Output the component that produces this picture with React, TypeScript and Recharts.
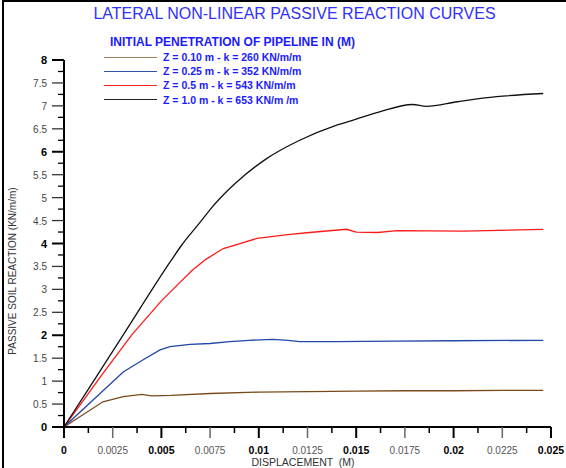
import React from 'react'
import { LineChart, Line, XAxis, YAxis } from 'recharts'

// displacement (m) / passive soil reaction (kN/m/m)
const dispZ010 = [0, 0.002, 0.00304, 0.004, 0.0045, 0.0055, 0.0075, 0.01, 0.0125, 0.015, 0.0175, 0.02, 0.0225, 0.0246]
const reactZ010 = [0, 0.55, 0.66, 0.71, 0.68, 0.69, 0.73, 0.76, 0.77, 0.78, 0.79, 0.79, 0.8, 0.8]

const dispZ025 = [0, 0.00304, 0.004, 0.00493, 0.00544, 0.00647, 0.0075, 0.0085, 0.0095, 0.0107, 0.0115, 0.0121, 0.014, 0.017, 0.02, 0.0246]
const reactZ025 = [0, 1.2, 1.45, 1.68, 1.75, 1.8, 1.82, 1.86, 1.89, 1.91, 1.89, 1.86, 1.86, 1.87, 1.88, 1.89]

const dispZ050 = [0, 0.002, 0.0035, 0.005, 0.0059, 0.0066, 0.0073, 0.00818, 0.0099, 0.0116, 0.0126, 0.01451, 0.015, 0.0161, 0.0171, 0.0205, 0.0246]
const reactZ050 = [0, 1.17, 2.02, 2.75, 3.13, 3.42, 3.66, 3.89, 4.11, 4.2, 4.24, 4.31, 4.25, 4.24, 4.28, 4.27, 4.31]

const dispZ100 = [0, 0.003, 0.0055, 0.006, 0.007, 0.0075, 0.008, 0.00887, 0.0104, 0.0121, 0.014, 0.015, 0.0162, 0.0179, 0.0186, 0.0202, 0.0222, 0.0246]
const reactZ100 = [0, 1.98, 3.63, 3.94, 4.47, 4.74, 4.98, 5.34, 5.85, 6.25, 6.58, 6.71, 6.87, 7.03, 6.99, 7.09, 7.2, 7.27]

const seriesNames = [
  'Z = 0.10 m - k = 260 KN/m/m',
  'Z = 0.25 m - k = 352 KN/m/m',
  'Z = 0.5 m - k = 543 KN/m/m',
  'Z = 1.0 m - k = 653 KN/m /m',
]
const seriesColors = ['#7b4a1c', '#2347a8', '#ff1a1a', '#111111']
const legendLineColors = ['#a07d5a', '#2f55aa', '#ff2020', '#222222']

const xTicks = [0, 0.00125, 0.0025, 0.00375, 0.005, 0.00625, 0.0075, 0.00875, 0.01, 0.01125, 0.0125, 0.01375, 0.015, 0.01625, 0.0175, 0.01875, 0.02, 0.02125, 0.0225, 0.02375, 0.025]
const yTicks = [0, 0.25, 0.5, 0.75, 1, 1.25, 1.5, 1.75, 2, 2.25, 2.5, 2.75, 3, 3.25, 3.5, 3.75, 4, 4.25, 4.5, 4.75, 5, 5.25, 5.5, 5.75, 6, 6.25, 6.5, 6.75, 7, 7.25, 7.5, 7.75, 8]

const zip = (xs: number[], ys: number[]) => xs.map((x, i) => ({ x, y: ys[i] }))
const series = [
  zip(dispZ010, reactZ010),
  zip(dispZ025, reactZ025),
  zip(dispZ050, reactZ050),
  zip(dispZ100, reactZ100),
]

const FONT = '"Liberation Sans", Arial, sans-serif'

const XTick = ({ x, y, payload, index }: any) => {
  const major = index % 2 === 0
  const bold = index % 4 === 0
  return (
    <g>
      <line x1={x} x2={x} y1={y} y2={y + (major ? 11 : 6)} stroke={major && !bold ? '#666' : '#000'} strokeWidth={bold ? 2 : 1.5} />
      {major && (
        <text x={x} y={y + 27} textAnchor="middle" fontFamily={FONT} fontSize={bold ? 10.5 : 10}
          fontWeight={bold ? 700 : 400} fill={bold ? '#000' : '#555'}>
          {String(payload.value)}
        </text>
      )}
    </g>
  )
}

const YTick = ({ x, y, payload, index }: any) => {
  const major = index % 2 === 0
  const bold = index % 8 === 0
  return (
    <g>
      <line x1={x - (major ? 12 : 6)} x2={x} y1={y} y2={y} stroke={major && !bold ? '#333' : '#000'} strokeWidth={bold ? 2 : 1.3} />
      {major && (
        <text x={x - 17} y={y + 4} textAnchor="end" fontFamily={FONT} fontSize={bold ? 11 : 10}
          fontWeight={bold ? 700 : 400} fill={bold ? '#000' : '#444'}>
          {String(payload.value)}
        </text>
      )}
    </g>
  )
}

export default function App() {
  return (
    <div style={{ position: 'absolute', left: 0, top: 0, width: 566, height: 468, background: '#fff', fontFamily: FONT }}>
      <div style={{ position: 'absolute', left: 2, top: 0, width: 564, height: 2, background: '#000' }} />
      <div style={{ position: 'absolute', left: 2, top: 0, width: 2, height: 468, background: '#000' }} />
      <div style={{ position: 'absolute', left: 0, width: 589, top: 5, textAlign: 'center', fontSize: 16, color: '#3030ff' }}>
        LATERAL NON-LINEAR PASSIVE REACTION CURVES
      </div>
      <div style={{ position: 'absolute', left: 110, top: 35, fontSize: 12, fontWeight: 700, color: '#1a1aff' }}>
        INITIAL PENETRATION OF PIPELINE IN (M)
      </div>
      {seriesNames.map((name, i) => (
        <div key={name} style={{ position: 'absolute', left: 104, top: 50 + i * 14.2, height: 14, display: 'flex', alignItems: 'center' }}>
          <span style={{ display: 'inline-block', width: 53, borderTop: `1.5px solid ${legendLineColors[i]}`, marginRight: 6 }} />
          <span style={{ fontSize: 10.5, fontWeight: 700, color: '#1a1aff' }}>{name}</span>
        </div>
      ))}
      <LineChart width={566} height={468} margin={{ top: 60, right: 15, bottom: 0, left: 0 }} style={{ position: 'absolute', left: 0, top: 0 }}>
        <XAxis
          dataKey="x"
          type="number"
          domain={[0, 0.025]}
          ticks={xTicks}
          interval={0}
          height={41}
          tickSize={0}
          tickMargin={0}
          tickLine={false}
          axisLine={{ stroke: '#000', strokeWidth: 2 }}
          tick={<XTick />}
          allowDataOverflow
          label={() => (
            <text x={303} y={466} textAnchor="middle" fontFamily={FONT} fontSize={10.5} fill="#333" style={{ whiteSpace: 'pre' }}>
              {'DISPLACEMENT  (M)'}
            </text>
          )}
        />
        <YAxis
          dataKey="y"
          type="number"
          domain={[0, 8]}
          ticks={yTicks}
          interval={0}
          width={64}
          tickSize={0}
          tickMargin={0}
          tickLine={false}
          axisLine={{ stroke: '#000', strokeWidth: 2 }}
          tick={<YTick />}
          label={() => (
            <text x={16} y={271} transform="rotate(-90 16 271)" textAnchor="middle" fontFamily={FONT} fontSize={10} fill="#333">
              PASSIVE SOIL REACTION (KN/m/m)
            </text>
          )}
        />
        {series.map((d, i) => (
          <Line
            key={seriesNames[i]}
            data={d}
            dataKey="y"
            name={seriesNames[i]}
            type={i === 3 ? 'monotone' : 'linear'}
            stroke={seriesColors[i]}
            strokeWidth={1.3}
            dot={false}
            activeDot={false}
            isAnimationActive={false}
          />
        ))}
      </LineChart>
    </div>
  )
}
